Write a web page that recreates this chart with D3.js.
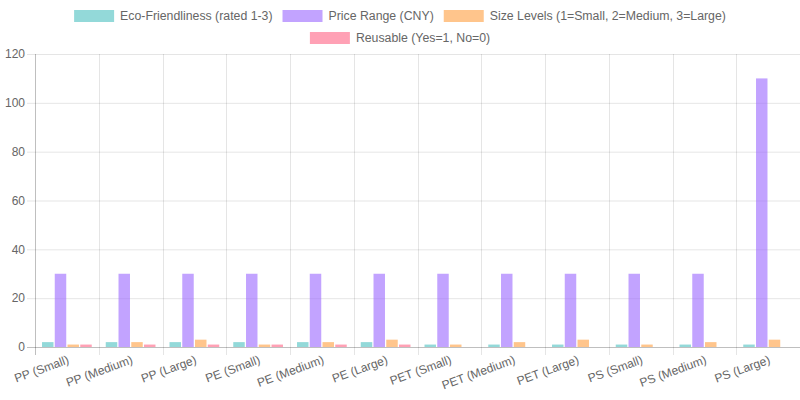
<!DOCTYPE html>
<html><head><meta charset="utf-8">
<script src="https://cdn.jsdelivr.net/npm/d3@7"></script>
<style>body{margin:0;background:#fff}svg{display:block;font-family:"Liberation Sans",Arial,sans-serif}</style>
</head><body><svg id="c" width="800" height="400"></svg>
<script>
const categories = ["PP (Small)","PP (Medium)","PP (Large)","PE (Small)","PE (Medium)","PE (Large)","PET (Small)","PET (Medium)","PET (Large)","PS (Small)","PS (Medium)","PS (Large)"];
const seriesNames = ["Eco-Friendliness (rated 1-3)","Price Range (CNY)","Size Levels (1=Small, 2=Medium, 3=Large)","Reusable (Yes=1, No=0)"];
const ecoFriendliness = [2,2,2,2,2,2,1,1,1,1,1,1];
const priceRange = [30,30,30,30,30,30,30,30,30,30,30,110];
const sizeLevels = [1,2,3,1,2,3,1,2,3,1,2,3];
const reusable = [1,1,1,1,1,1,0,0,0,0,0,0];
const yTicks = [0,20,40,60,80,100,120];
const fills = ["rgba(75,192,192,0.6)","rgba(153,102,255,0.6)","rgba(255,159,64,0.6)","rgba(255,99,132,0.6)"];
const series = [ecoFriendliness, priceRange, sizeLevels, reusable];

const svg = d3.select("#c");
const L = 35, R = 800, T = 54, B = 347;
const x = d3.scaleBand().domain(categories).range([L, R]);
const y = d3.scaleLinear().domain([0,120]).range([B, T]);
const x1 = d3.scaleBand().domain(d3.range(series.length)).range([0, x.bandwidth()*0.8]);
const barW = x1.bandwidth()*0.9;

// horizontal grid
svg.append("g").selectAll("line").data(yTicks).join("line")
  .attr("x1", L-8).attr("x2", R).attr("y1", d=>y(d)+0.5).attr("y2", d=>y(d)+0.5)
  .attr("stroke", d => d===0 ? "rgba(0,0,0,0.25)" : "rgba(0,0,0,0.1)");
// vertical grid
const vx = categories.map(c => x(c));
svg.append("g").selectAll("line").data(vx).join("line")
  .attr("x1", d=>Math.round(d)+0.5).attr("x2", d=>Math.round(d)+0.5).attr("y1", T).attr("y2", B+8)
  .attr("stroke", (d,i) => i===0 ? "rgba(0,0,0,0.25)" : "rgba(0,0,0,0.1)");

// y labels
svg.append("g").selectAll("text").data(yTicks).join("text")
  .attr("x", L-10).attr("y", d=>y(d)).attr("dy","0.35em").attr("text-anchor","end")
  .attr("font-size",12).attr("fill","#666").text(d=>d);

// bars
series.forEach((vals, si) => {
  svg.append("g").selectAll("rect").data(vals).join("rect")
    .attr("x", (d,i)=> x(categories[i]) + x.bandwidth()*0.1 + x1(si) + (x1.bandwidth()-barW)/2)
    .attr("width", barW)
    .attr("y", d=>y(d)).attr("height", d=>B-y(d))
    .attr("fill", fills[si]);
});

// x labels
svg.append("g").selectAll("text").data(categories).join("text")
  .attr("transform", c => `translate(${x(c)+x.bandwidth()/2+3},${B+16}) rotate(-20)`)
  .attr("text-anchor","end").attr("font-size",12).attr("fill","#666").text(d=>d);

// legend
const legendRows = [[0,1,2],[3]];
const LF = 12.3;
const ctx = document.createElement("canvas").getContext("2d");
ctx.font = LF + "px 'Liberation Sans'";
legendRows.forEach((row, ri) => {
  const widths = row.map(i => 40 + 6 + ctx.measureText(seriesNames[i]).width);
  const total = d3.sum(widths) + 10*(row.length-1);
  let cx = 400 - total/2;
  const cy = ri===0 ? 16 : 38;
  row.forEach((si, k) => {
    const g = svg.append("g").attr("transform", `translate(${cx},${cy})`);
    g.append("rect").attr("x",0).attr("y",-6).attr("width",40).attr("height",12).attr("fill",fills[si]);
    g.append("text").attr("x",46).attr("y",0).attr("dy","0.35em").attr("font-size",LF).attr("fill","#666").text(seriesNames[si]);
    cx += widths[k] + 10;
  });
});
</script></body></html>
